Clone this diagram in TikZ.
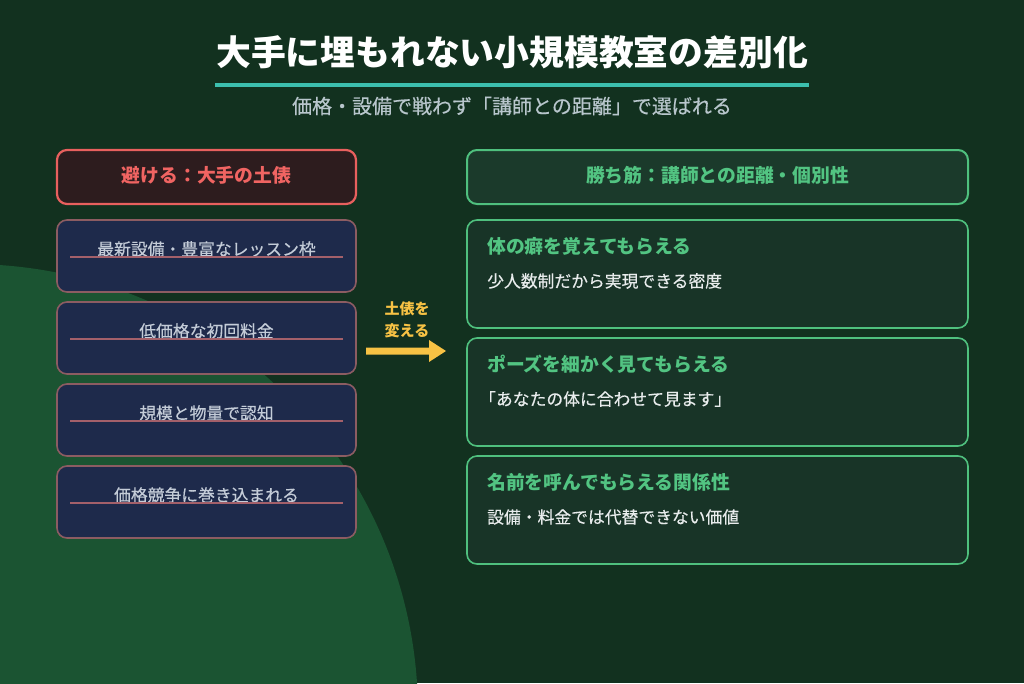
\documentclass[tikz,border=0pt]{standalone}
\usepackage{fontspec}
\setmainfont{Noto Sans CJK JP}
\newfontfamily\jp{Noto Sans CJK JP}
\newfontfamily\jpm[FakeBold=0.4]{Noto Sans CJK JP}
\definecolor{bgc}{HTML}{12311F}
\definecolor{circc}{HTML}{1B5432}
\definecolor{tealc}{HTML}{3CBFAE}
\definecolor{subc}{HTML}{B8C6CC}
\definecolor{lhfill}{HTML}{2D1C1E}
\definecolor{lhline}{HTML}{E8605E}
\definecolor{lhtext}{HTML}{F06462}
\definecolor{lbfill}{HTML}{1E2A4B}
\definecolor{lbline}{HTML}{8C5C62}
\definecolor{lbtext}{HTML}{C4CCD8}
\definecolor{strikec}{HTML}{A4606A}
\definecolor{arrowc}{HTML}{F7C244}
\definecolor{rhfill}{HTML}{1B3A2B}
\definecolor{rline}{HTML}{4FC07E}
\definecolor{rtext}{HTML}{52C482}
\definecolor{rbfill}{HTML}{183427}
\definecolor{desc}{HTML}{E8ECEC}
\tikzset{
  lhead/.style={draw=lhline, fill=lhfill, line width=2.2pt, rounded corners=10pt},
  lbox/.style={draw=lbline, fill=lbfill, line width=1.6pt, rounded corners=10pt},
  rhead/.style={draw=rline, fill=rhfill, line width=2pt, rounded corners=10pt},
  rbox/.style={draw=rline, fill=rbfill, line width=1.6pt, rounded corners=10pt},
  ltxt/.style={text=lbtext, font=\jpm\fontsize{16.8}{19}\selectfont, inner sep=0pt},
  strike/.style={draw=strikec, line width=1.6pt},
  rtitle/.style={text=rtext, font=\jp\bfseries\fontsize{18.8}{22}\selectfont, anchor=west, inner sep=0pt},
  rdesc/.style={text=desc, font=\jpm\fontsize{16.8}{19}\selectfont, anchor=west, inner sep=0pt},
}
\begin{document}
\begin{tikzpicture}[x=1pt,y=-1pt]
\useasboundingbox (0,0) rectangle (1024,683);
\fill[bgc] (0,0) rectangle (1024,683);
\begin{scope}
\clip (0,0) rectangle (1024,683);
\fill[circc] (-31,713) circle (449);
\end{scope}
% title
\node[text=white, font=\jp\bfseries\fontsize{34.8}{40}\selectfont, inner sep=0pt] (title) at (512,52) {大手に埋もれない小規模教室の差別化};
\draw[tealc, line width=4pt] (215,85) -- (809,85);
\node[text=subc, font=\jpm\fontsize{20}{24}\selectfont, inner sep=0pt] (sub) at (512,106) {価格・設備で戦わず「講師との距離」で選ばれる};
% left header
\draw[lhead] (57,150) rectangle (356,204);
\node[text=lhtext, font=\jp\bfseries\fontsize{18.8}{22}\selectfont, inner sep=0pt] (lh) at (206.5,175) {避ける：大手の土俵};
% left boxes
\foreach \t/\txt in {220/最新設備・豊富なレッスン枠, 302/低価格な初回料金, 384/規模と物量で認知, 466/価格競争に巻き込まれる}{
  \draw[lbox] (57,\t) rectangle (356,\t+72);
  \node[ltxt] at (206.5,\t+29) {\txt};
  \draw[strike] (70,\t+37) -- (343,\t+37);
}
% arrow
\node[text=arrowc, font=\jp\bfseries\fontsize{15}{22}\selectfont, align=center, inner sep=0pt] (alab) at (407,320) {土俵を\\変える};
\coordinate (as) at (366,351);
\coordinate (ae) at (446,351);
\fill[arrowc] (366,347.5) -- (429,347.5) -- (429,340) -- (446,351) -- (429,362) -- (429,354.5) -- (366,354.5) -- cycle;
% right header
\draw[rhead] (467,150) rectangle (968,204);
\node[text=rtext, font=\jp\bfseries\fontsize{18.8}{22}\selectfont, inner sep=0pt] (rh) at (717.5,175) {勝ち筋：講師との距離・個別性};
% right boxes
\draw[rbox] (467,220) rectangle (968,328);
\node[rtitle] at (487,246) {体の癖を覚えてもらえる};
\node[rdesc] at (487,281) {少人数制だから実現できる密度};
\draw[rbox] (467,338) rectangle (968,446);
\node[rtitle] at (487,364) {ポーズを細かく見てもらえる};
\node[rdesc] at (479,399) {「あなたの体に合わせて見ます」};
\draw[rbox] (467,456) rectangle (968,564);
\node[rtitle] at (487,482) {名前を呼んでもらえる関係性};
\node[rdesc] at (487,517) {設備・料金では代替できない価値};
\end{tikzpicture}
\end{document}
